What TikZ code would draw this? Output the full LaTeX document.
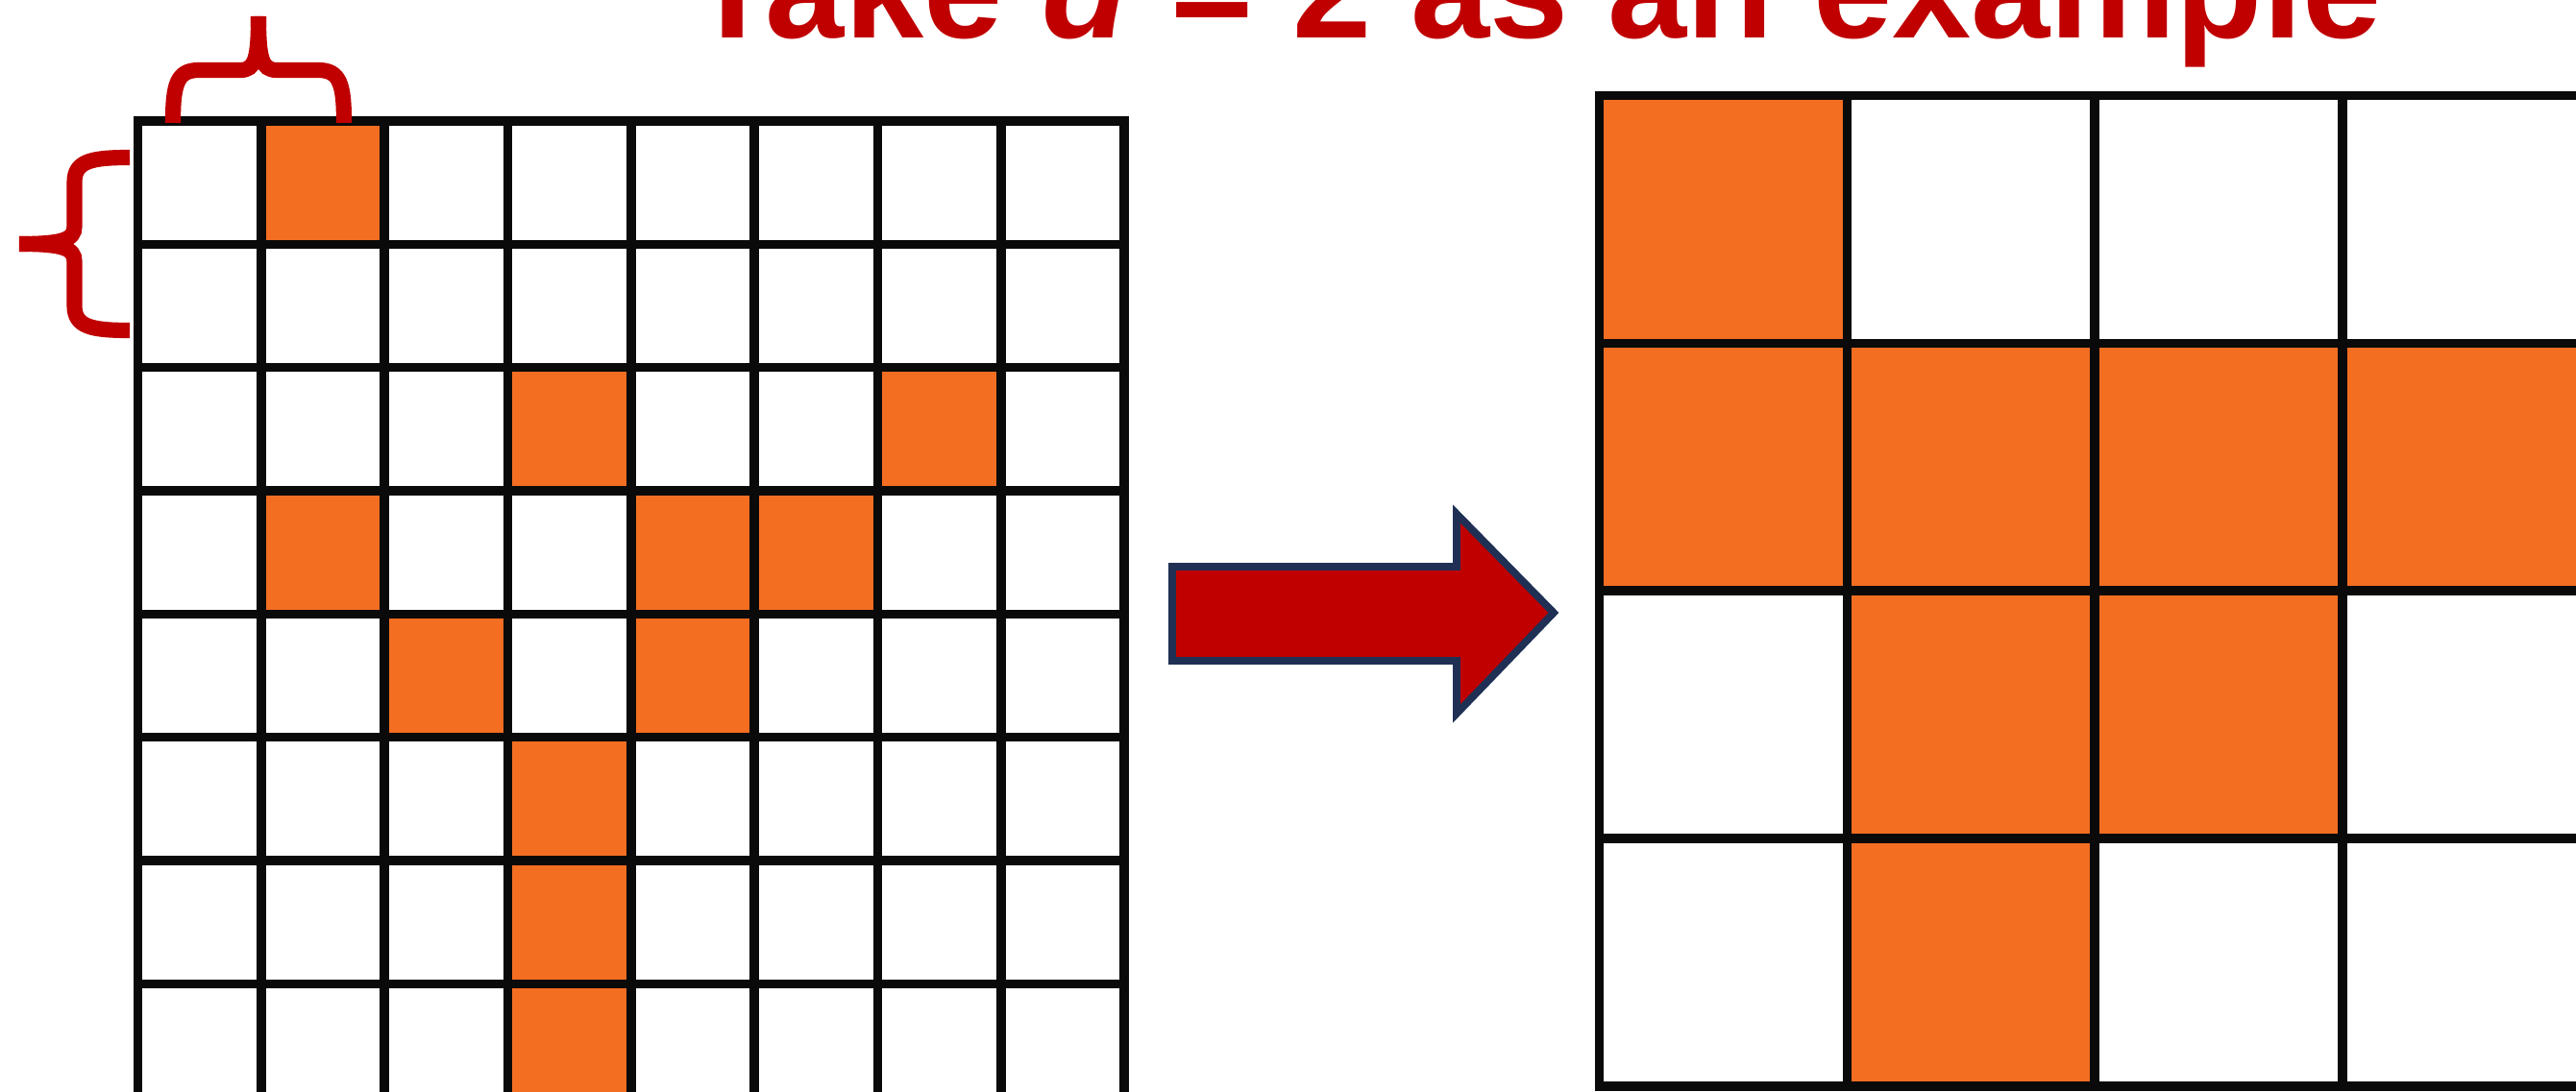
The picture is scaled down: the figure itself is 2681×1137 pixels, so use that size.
\documentclass[tikz,border=0pt]{standalone}
\usepackage{fontspec}
\setmainfont{Liberation Sans}
\definecolor{cellorange}{RGB}{243,110,33}
\definecolor{bracered}{RGB}{192,0,0}
\definecolor{arrownavy}{RGB}{31,48,84}
\begin{document}
\begin{tikzpicture}[x=0.01cm,y=-0.01cm,
  gridline/.style={line width=2.7pt,draw=black!96,line cap=rect},
  hotcell/.style={fill=cellorange},
  bracepath/.style={draw=bracered,line width=4.6pt},
  title/.style={font=\bfseries\fontsize{42}{50}\selectfont,text=bracered,anchor=base,inner sep=0pt}]
  \clip (0,0) rectangle (2681,1137);
  % title, mostly above the page
  \node[title] (title) at (1598,40) {Take \textit{d} = 2 as an example};
  % left 8x8 grid
  \begin{scope}[shift={(143.5,126)},x=1.2825cm,y=-1.2825cm]
    \foreach \r/\c in {0/1,2/3,2/6,3/1,3/4,3/5,4/2,4/4,5/3,6/3,7/3}
      \fill[hotcell] (\c,\r) rectangle ++(1,1);
    \foreach \i in {0,...,8} {
      \draw[gridline] (\i,0) -- (\i,8);
      \draw[gridline] (0,\i) -- (8,\i);
    }
  \end{scope}
  % right 4x4 grid
  \begin{scope}[shift={(1664.5,99.5)},x=2.577cm,y=-2.577cm]
    \foreach \r/\c in {0/0,1/0,1/1,1/2,1/3,2/1,2/2,3/1}
      \fill[hotcell] (\c,\r) rectangle ++(1,1);
    \foreach \i in {0,...,4} {
      \draw[gridline] (\i,0) -- (\i,4);
      \draw[gridline] (0,\i) -- (4,\i);
    }
  \end{scope}
  % block arrow
  \draw[fill=bracered,draw=arrownavy,line width=2.2pt,line join=miter]
    (1220,590) -- (1516,590) -- (1516,535) -- (1617,638) -- (1516,743)
    -- (1516,688) -- (1220,688) -- cycle;
  % top brace
  \draw[bracepath] (180,128) .. controls (180,88) and (184,73) .. (207,73)
    -- (250,73) .. controls (266,73) and (269,60) .. (269,17);
  \draw[bracepath] (358,128) .. controls (358,88) and (354,73) .. (331,73)
    -- (288,73) .. controls (272,73) and (269,60) .. (269,17);
  % left brace
  \draw[bracepath] (135,164) .. controls (94,164) and (77.5,168) .. (77.5,190)
    -- (77.5,236) .. controls (77.5,250) and (64,254) .. (20,254);
  \draw[bracepath] (135,344) .. controls (94,344) and (77.5,340) .. (77.5,318)
    -- (77.5,272) .. controls (77.5,258) and (64,254) .. (20,254);
\end{tikzpicture}
\end{document}
